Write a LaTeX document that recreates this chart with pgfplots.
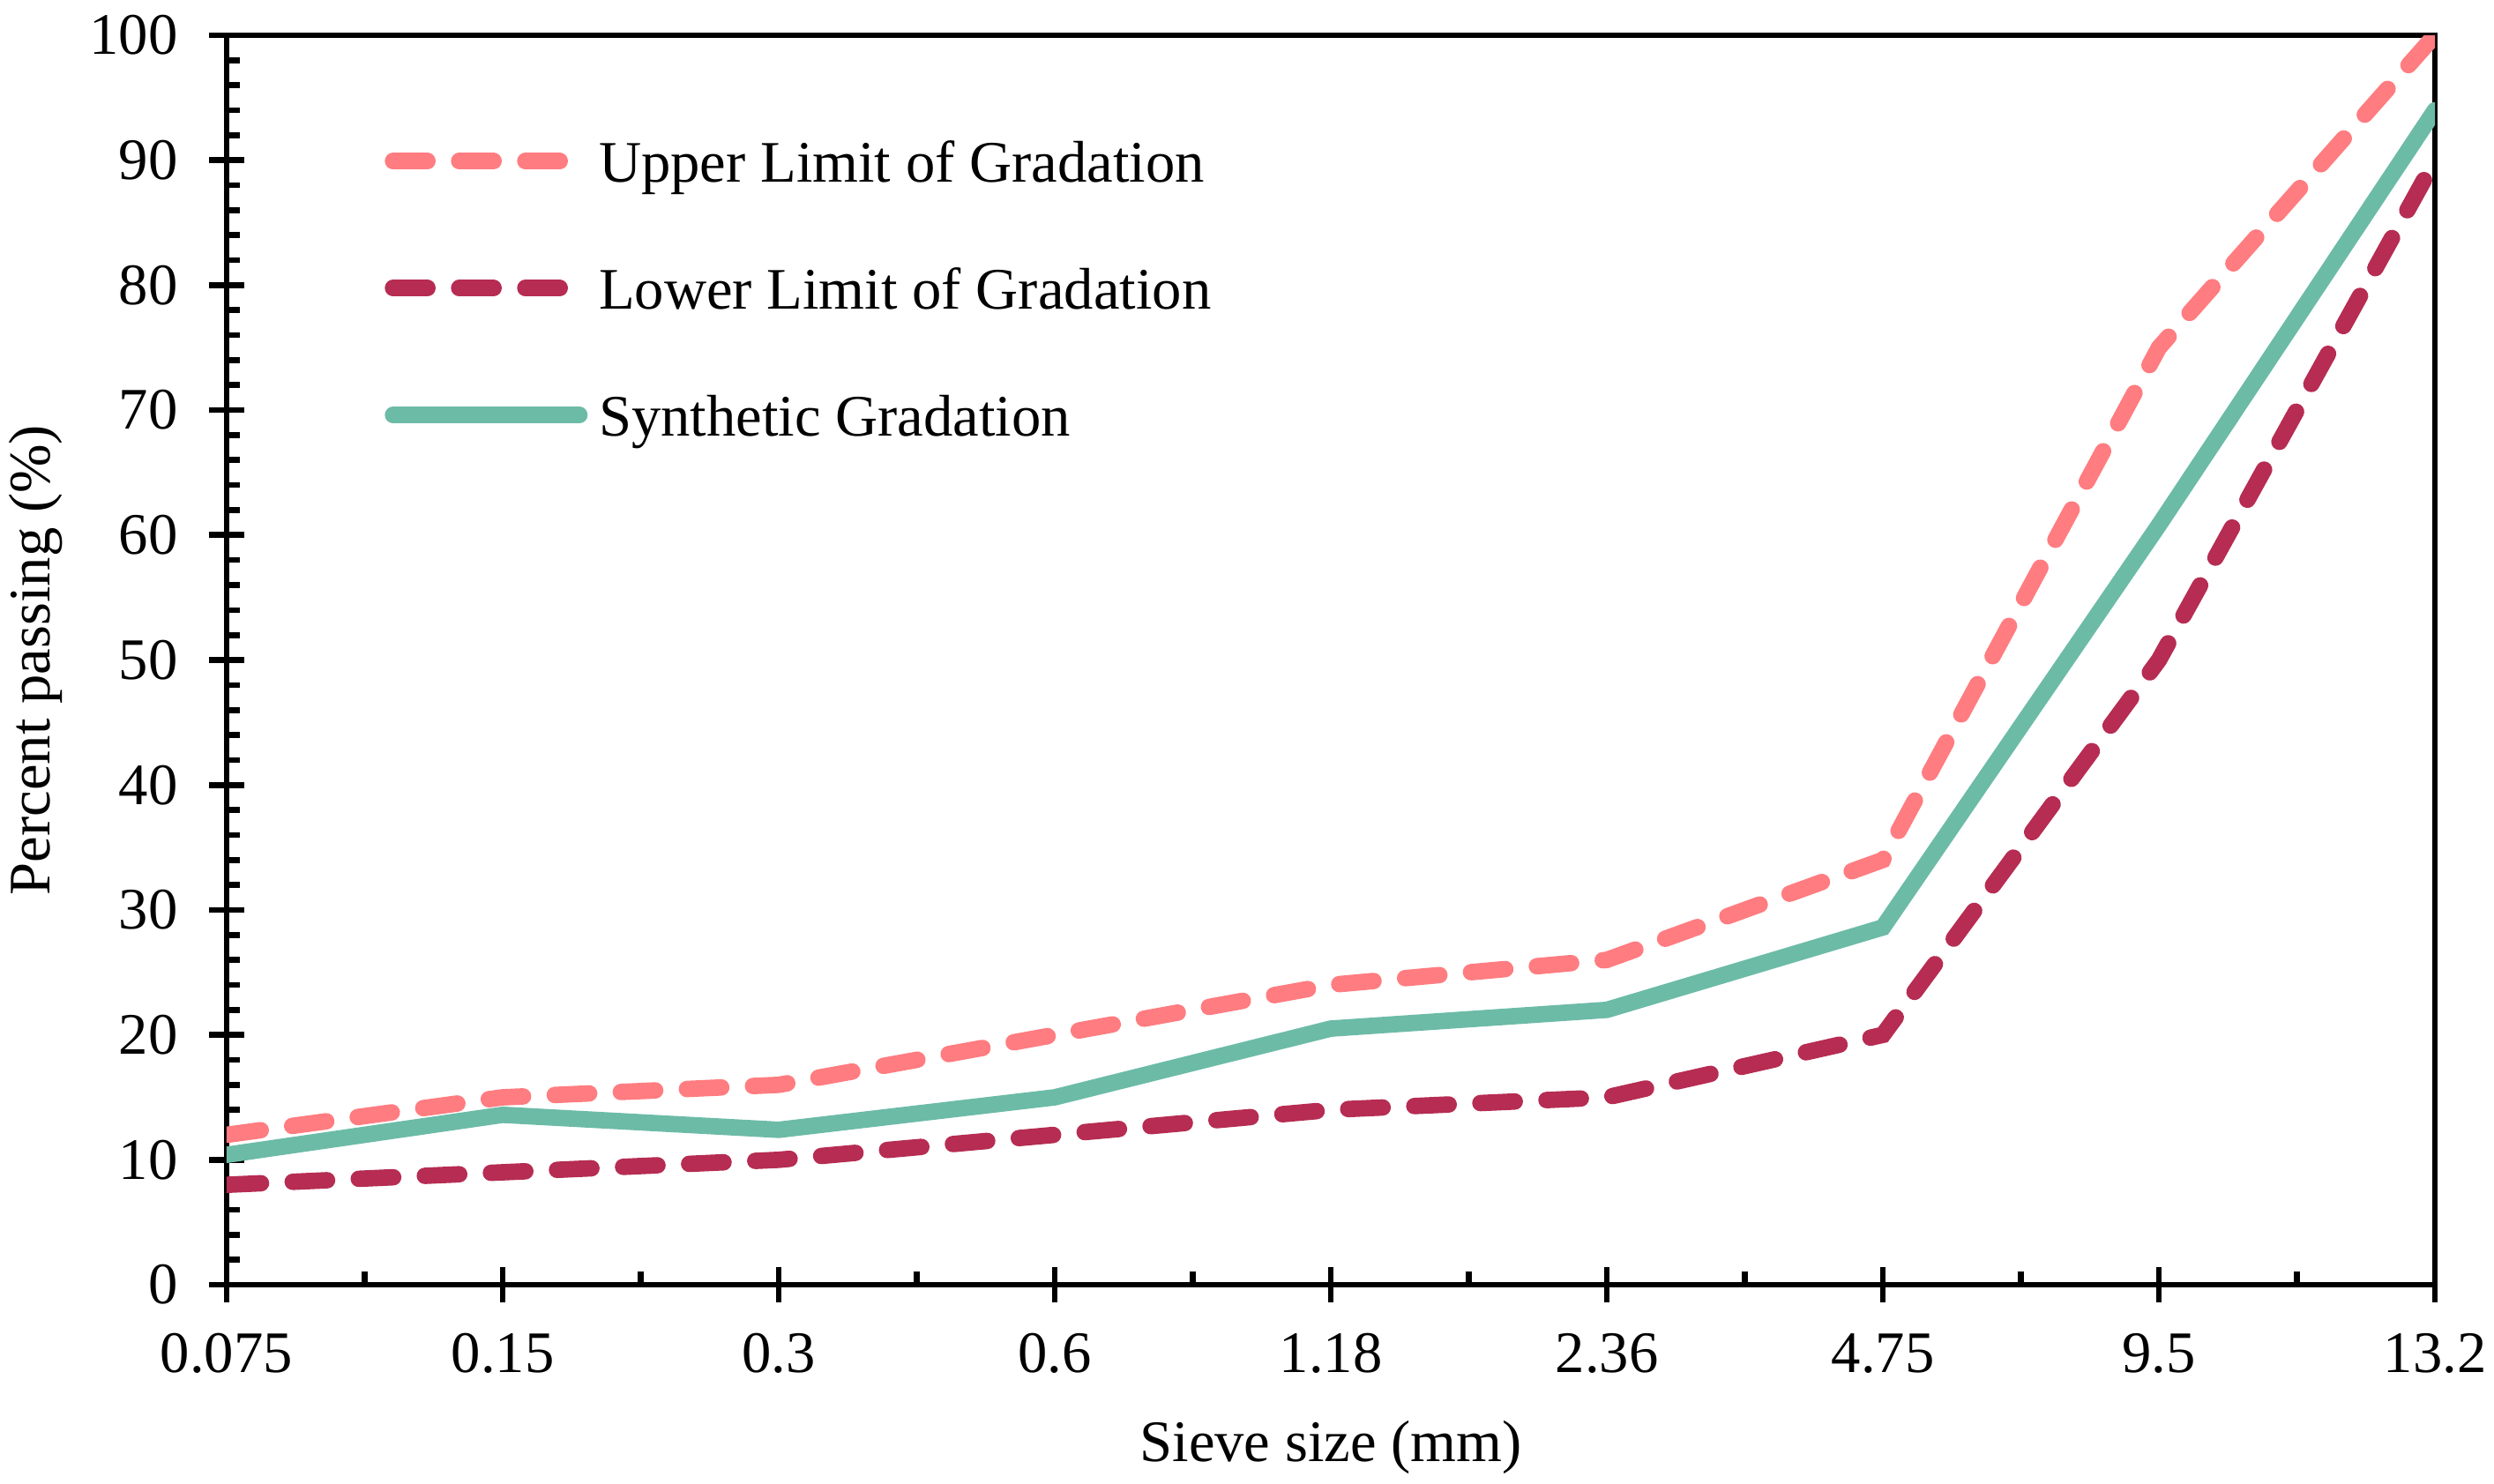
\documentclass[border=0pt]{standalone}
\usepackage{fontspec}
\setmainfont{Liberation Serif}
\usepackage{pgfplots}
\pgfplotsset{compat=1.18}

\definecolor{upper}{RGB}{255,124,128}
\definecolor{lower}{RGB}{182,44,82}
\definecolor{synth}{RGB}{108,187,167}

\begin{document}
\fontsize{10pt}{12pt}\selectfont
\begin{tikzpicture}
\begin{axis}[
    name=ax,
    scale only axis,
    width=375.6pt, height=212.55pt,
    xmin=0, xmax=8, ymin=0, ymax=100,
    xtick={0,...,8},
    xticklabels={0.075,0.15,0.3,0.6,1.18,2.36,4.75,9.5,13.2},
    ytick={0,10,...,100},
    minor x tick num=1,
    minor y tick num=4,
    tick pos=left,
    tick align=inside,
    major tick length=3pt,
    minor tick length=2.25pt,
    extra x ticks={0,...,8}, extra x tick labels={},
    extra y ticks={0,10,...,100}, extra y tick labels={},
    extra tick style={tick align=outside, major tick length=3pt},
    every tick/.style={black, line width=1pt},
    axis line style={line width=1pt},
    /pgf/number format/assume math mode=true,
    yticklabel style={inner sep=0pt, anchor=east, xshift=-8.1pt},
    xticklabel style={inner sep=0pt, anchor=north, yshift=-8.1pt},
    ylabel={Percent passing (\%)},
    xlabel={Sieve size (mm)},
    every axis y label/.style={at={(axis description cs:-0.0865,0.5)}, rotate=90, anchor=center},
    every axis x label/.style={at={(axis description cs:0.5,-0.1303)}, anchor=center},
    legend cell align=left,
    legend image code/.code={\draw[#1] (0pt,0pt) -- (31.7pt,0pt);},
    legend style={at={(axis description cs:0,1)}, anchor=north west,
        xshift=26.9pt, yshift=-17.9pt, draw=none, fill=none,
        inner sep=0pt, outer sep=0pt, row sep=14.6pt,
        nodes={inner sep=0pt, text height=7pt, text depth=0pt},
        /tikz/every odd column/.style={column sep=1.9pt}},
]
\addplot[upper, line width=2.8pt, line cap=round, dash pattern=on 5.85pt off 5.4pt]
  coordinates {(0,12) (1,15) (2,16) (3,20) (4,24) (5,26) (6,34) (7,75) (8,100)};
\addlegendentry{Upper Limit of Gradation}
\addplot[lower, line width=2.8pt, line cap=round, dash pattern=on 5.85pt off 5.4pt]
  coordinates {(0,8) (1,9) (2,10) (3,12) (4,14) (5,15) (6,20) (7,50) (8,90)};
\addlegendentry{Lower Limit of Gradation}
\addplot[synth, line width=2.8pt, line cap=round]
  coordinates {(0,10.4) (1,13.6) (2,12.4) (3,15) (4,20.5) (5,22) (6,28.6) (7,60.8) (8,94)};
\addlegendentry{Synthetic Gradation}
\end{axis}
\pgfresetboundingbox
\path[use as bounding box] ([xshift=-38.55pt,yshift=-33.75pt]ax.south west)
  rectangle ([xshift=10.05pt,yshift=6pt]ax.north east);
\end{tikzpicture}
\end{document}
